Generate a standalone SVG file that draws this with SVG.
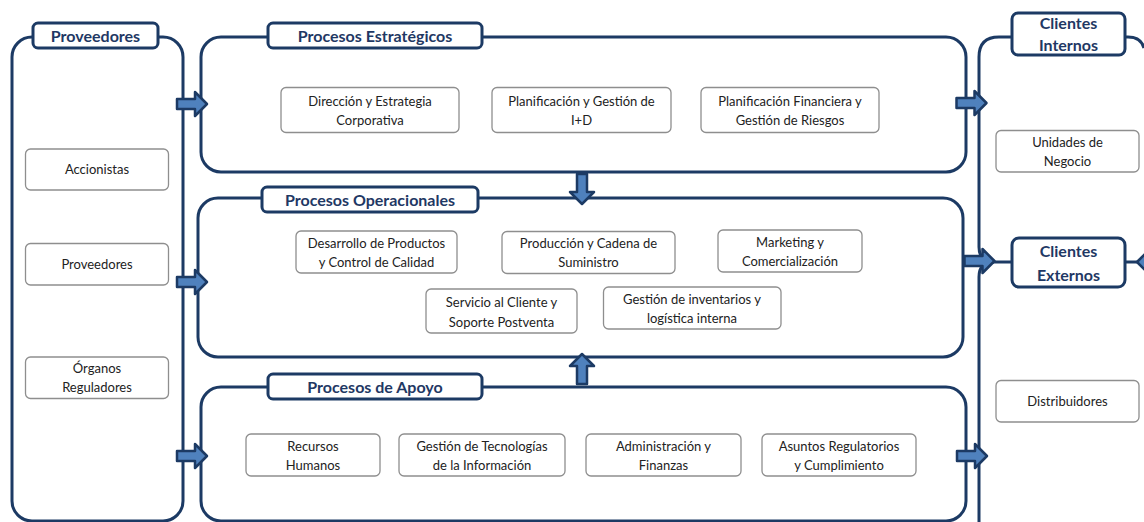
<svg xmlns="http://www.w3.org/2000/svg" width="1144" height="522" viewBox="0 0 1144 522">
  <style>
    .frame { fill: none; stroke: #1C3A64; stroke-width: 3; }
    .title { fill: #ffffff; stroke: #1C3A64; stroke-width: 3; }
    .ttext { font-family: Lato, "Liberation Sans", sans-serif; font-weight: bold; font-size: 16px; fill: #1F3864; text-anchor: middle; }
    .box { fill: #ffffff; stroke: #8E8E8E; stroke-width: 1.3; }
    .btext { font-family: Lato, "Liberation Sans", sans-serif; font-size: 13px; fill: #222222; text-anchor: middle; }
    .arrow { fill: #4F81BD; stroke: #1C3A64; stroke-width: 2.5; stroke-linejoin: round; }
  </style>
  <defs>
    <!-- block arrow pointing right, centred on the origin, 30px long -->
    <path id="blk" d="M-15,-5 H3 V-12 L15,0 L3,12 V5 H-15 Z"/>
  </defs>
  <rect width="1144" height="522" fill="#ffffff"/>

  <!-- frames -->
  <g id="frame-proveedores">
    <rect class="frame" x="12" y="37" width="171" height="484" rx="20"/>
    <rect class="title" x="33" y="23" width="125" height="25" rx="5"/>
    <text class="ttext" x="95.5" y="41.5">Proveedores</text>
  </g>
  <g id="frame-estrategicos">
    <rect class="frame" x="201" y="37" width="765" height="135" rx="20"/>
    <rect class="title" x="268" y="23" width="214" height="25" rx="5"/>
    <text class="ttext" x="375" y="41.5">Procesos Estratégicos</text>
  </g>
  <g id="frame-operacionales">
    <rect class="frame" x="198" y="198" width="765" height="159" rx="20"/>
    <rect class="title" x="262" y="187" width="216" height="25" rx="5"/>
    <text class="ttext" x="370" y="205.5">Procesos Operacionales</text>
  </g>
  <g id="frame-apoyo">
    <rect class="frame" x="201" y="387" width="765" height="134" rx="20"/>
    <rect class="title" x="268" y="374" width="214" height="25" rx="5"/>
    <text class="ttext" x="375" y="392.5">Procesos de Apoyo</text>
  </g>
  <g id="frame-clientes-internos">
    <path class="frame" d="M994,262 Q979,262 979,247 V57 Q979,37 999,37 H1128 Q1141,37 1144,48"/>
    <rect class="title" x="1012" y="13" width="113" height="42" rx="6"/>
    <text class="ttext" x="1068.5" y="29">Clientes</text>
    <text class="ttext" x="1068.5" y="51">Internos</text>
  </g>
  <g id="frame-clientes-externos">
    <path class="frame" d="M1012,262 H994 Q979,262 979,277 V522"/>
    <path class="frame" d="M1125,262 H1146"/>
    <path class="arrow" d="M1137,262 L1147,252 V272 Z"/>
    <rect class="title" x="1012" y="238" width="113" height="49" rx="7"/>
    <text class="ttext" x="1068.5" y="257">Clientes</text>
    <text class="ttext" x="1068.5" y="281">Externos</text>
  </g>

  <!-- supplier nodes -->
  <g id="n-accionistas">
    <rect class="box" x="25.5" y="149" width="143" height="41" rx="5"/>
    <text class="btext" x="97" y="174">Accionistas</text>
  </g>
  <g id="n-proveedores">
    <rect class="box" x="25.5" y="243.5" width="143" height="41.5" rx="5"/>
    <text class="btext" x="97" y="269">Proveedores</text>
  </g>
  <g id="n-organos">
    <rect class="box" x="25.5" y="357" width="143" height="41.5" rx="5"/>
    <text class="btext" x="97" y="373">Órganos</text>
    <text class="btext" x="97" y="392">Reguladores</text>
  </g>

  <!-- strategic processes -->
  <g id="n-direccion">
    <rect class="box" x="281" y="87.5" width="178" height="45" rx="5"/>
    <text class="btext" x="370" y="106">Dirección y Estrategia</text>
    <text class="btext" x="370" y="125">Corporativa</text>
  </g>
  <g id="n-planificacion-id">
    <rect class="box" x="492" y="87.5" width="179" height="45" rx="5"/>
    <text class="btext" x="581.5" y="106">Planificación y Gestión de</text>
    <text class="btext" x="581.5" y="125">I+D</text>
  </g>
  <g id="n-planificacion-financiera">
    <rect class="box" x="701" y="87.5" width="178" height="45" rx="5"/>
    <text class="btext" x="790" y="106">Planificación Financiera y</text>
    <text class="btext" x="790" y="125">Gestión de Riesgos</text>
  </g>

  <!-- operational processes -->
  <g id="n-desarrollo">
    <rect class="box" x="296" y="231" width="161" height="42" rx="5"/>
    <text class="btext" x="376.5" y="248">Desarrollo de Productos</text>
    <text class="btext" x="376.5" y="267">y Control de Calidad</text>
  </g>
  <g id="n-produccion">
    <rect class="box" x="502" y="231.5" width="173" height="42" rx="5"/>
    <text class="btext" x="588.5" y="248">Producción y Cadena de</text>
    <text class="btext" x="588.5" y="267">Suministro</text>
  </g>
  <g id="n-marketing">
    <rect class="box" x="718" y="230" width="144" height="42" rx="5"/>
    <text class="btext" x="790" y="247">Marketing y</text>
    <text class="btext" x="790" y="266">Comercialización</text>
  </g>
  <g id="n-servicio">
    <rect class="box" x="426" y="289" width="151" height="44" rx="5"/>
    <text class="btext" x="501.5" y="307">Servicio al Cliente y</text>
    <text class="btext" x="501.5" y="327">Soporte Postventa</text>
  </g>
  <g id="n-inventarios">
    <rect class="box" x="603.5" y="287" width="177.5" height="42" rx="5"/>
    <text class="btext" x="692" y="304">Gestión de inventarios y</text>
    <text class="btext" x="692" y="323">logística interna</text>
  </g>

  <!-- support processes -->
  <g id="n-rrhh">
    <rect class="box" x="246" y="434" width="134" height="42" rx="5"/>
    <text class="btext" x="313" y="451">Recursos</text>
    <text class="btext" x="313" y="470">Humanos</text>
  </g>
  <g id="n-ti">
    <rect class="box" x="399" y="434" width="166" height="42" rx="5"/>
    <text class="btext" x="482" y="451">Gestión de Tecnologías</text>
    <text class="btext" x="482" y="470">de la Información</text>
  </g>
  <g id="n-administracion">
    <rect class="box" x="586" y="434" width="155" height="42" rx="5"/>
    <text class="btext" x="663.5" y="451">Administración y</text>
    <text class="btext" x="663.5" y="470">Finanzas</text>
  </g>
  <g id="n-regulatorios">
    <rect class="box" x="762" y="434" width="154" height="42" rx="5"/>
    <text class="btext" x="839" y="451">Asuntos Regulatorios</text>
    <text class="btext" x="839" y="470">y Cumplimiento</text>
  </g>

  <!-- client nodes -->
  <g id="n-unidades">
    <rect class="box" x="996" y="130.5" width="143" height="41.5" rx="5"/>
    <text class="btext" x="1067.5" y="147">Unidades de</text>
    <text class="btext" x="1067.5" y="166">Negocio</text>
  </g>
  <g id="n-distribuidores">
    <rect class="box" x="996" y="380.5" width="143" height="41.5" rx="5"/>
    <text class="btext" x="1067.5" y="406">Distribuidores</text>
  </g>

  <!-- connectors -->
  <g id="connectors">
    <use href="#blk" class="arrow" transform="translate(192,104)"/>
    <use href="#blk" class="arrow" transform="translate(192,282)"/>
    <use href="#blk" class="arrow" transform="translate(192,456)"/>
    <use href="#blk" class="arrow" transform="translate(971.5,103)"/>
    <use href="#blk" class="arrow" transform="translate(979.5,261)"/>
    <use href="#blk" class="arrow" transform="translate(972,456)"/>
    <use href="#blk" class="arrow" transform="translate(582,189) rotate(90)"/>
    <use href="#blk" class="arrow" transform="translate(582,369) rotate(-90)"/>
  </g>
</svg>
